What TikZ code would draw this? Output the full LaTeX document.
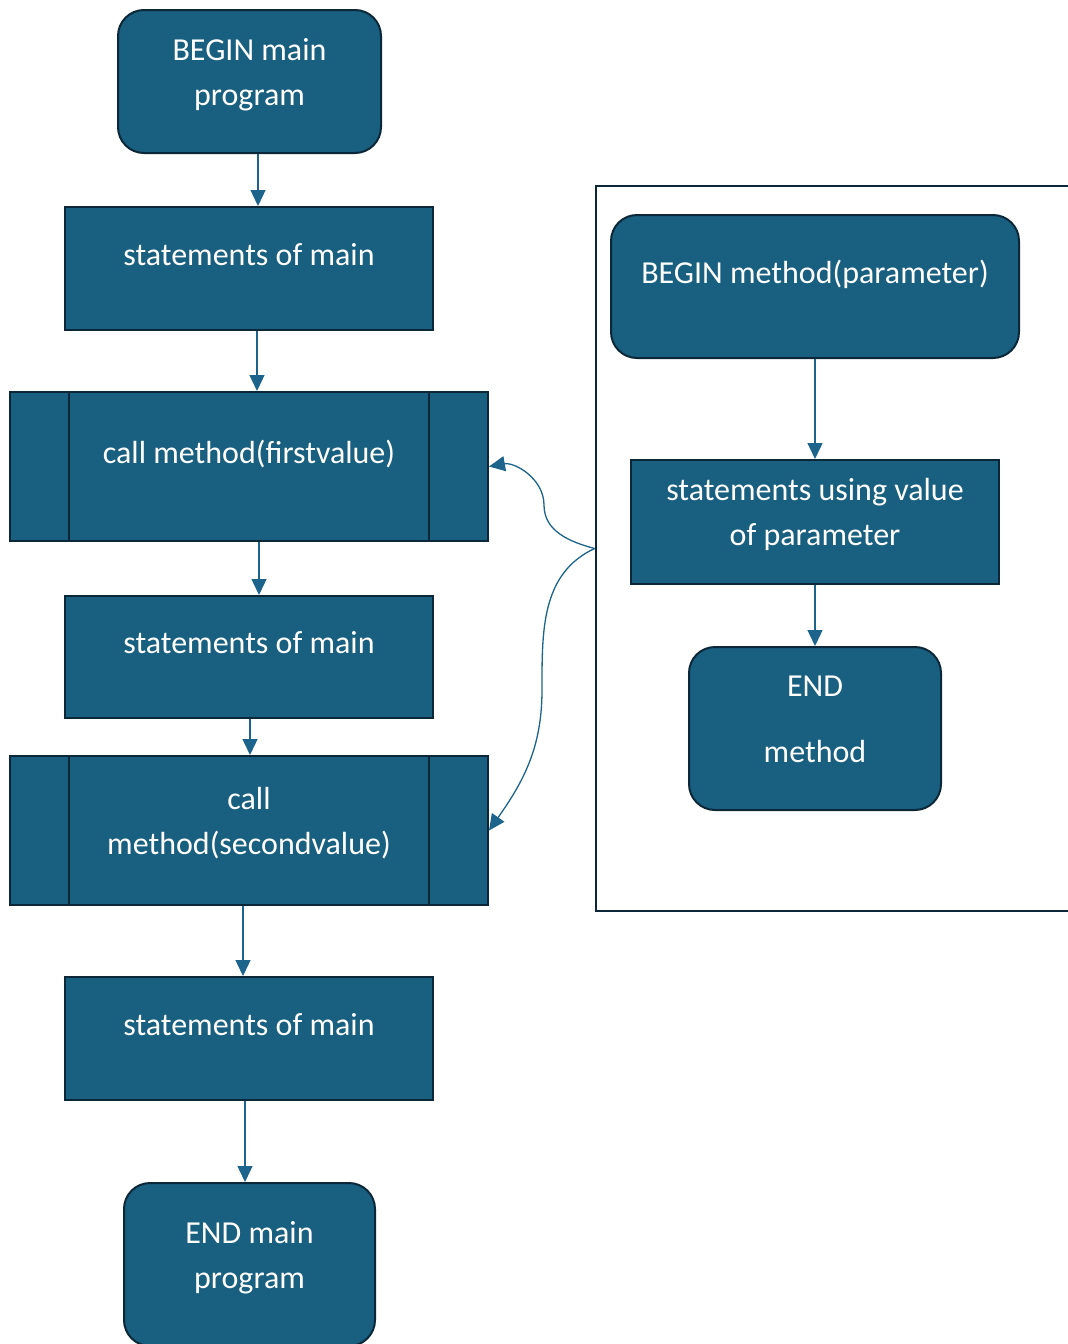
\documentclass[tikz,border=0pt]{standalone}
\usepackage{fontspec}
\setmainfont{Carlito}
\usetikzlibrary{arrows.meta}

\definecolor{boxfill}{RGB}{24,95,128}
\definecolor{boxline}{RGB}{12,40,56}
\definecolor{flowline}{RGB}{28,100,140}

% two lines of text, set a little above the middle of the box
\newcommand{\twolines}[3][0pt]{\begin{tabular}{@{}c@{}}#2\\[#1]#3\rule[-29pt]{0pt}{0pt}\end{tabular}}

\tikzset{
  textlift/.style={execute at begin node={\rule{0pt}{25pt}},
                   execute at end node={\rule[-31.5pt]{0pt}{0pt}}},
  stepbox/.style={draw=boxline, fill=boxfill, line width=2pt, text=white,
                  align=center, inner ysep=0pt, textlift},
  roundbox/.style={stepbox, rounded corners=26pt},
  flow/.style={draw=flowline, line width=1.3pt, -{Triangle[length=16pt,width=15pt]}}
}

\begin{document}
\begin{tikzpicture}[x=1pt, y=-1pt, font=\fontsize{32}{45}\selectfont]

    \useasboundingbox (0,0) rectangle (1068,1344);

    % main program
    \node [roundbox, minimum width=263, minimum height=143] (beginmain) at (249.5, 81.5) {\twolines{BEGIN main}{program}};
    \node [stepbox, minimum width=368, minimum height=123] (stmts1) at (249, 268.5) {statements of main};
    \node [stepbox, minimum width=478, minimum height=149] (call1) at (249, 466.5) {call method(firstvalue)};
    \node [stepbox, minimum width=368, minimum height=122] (stmts2) at (249, 657) {statements of main};
    \node [stepbox, minimum width=478, minimum height=149] (call2) at (249, 830.5) {\twolines{call}{method(secondvalue)}};
    \node [stepbox, minimum width=368, minimum height=123] (stmts3) at (249, 1038.5) {statements of main};
    \node [roundbox, minimum width=251, minimum height=163] (endmain) at (249.5, 1264.5) {\twolines{END main}{program}};

    % side bars of the call boxes
    \foreach \c in {call1, call2} {
        \draw [boxline, line width=2pt] ([xshift=60]\c.north west) -- ([xshift=60]\c.south west);
        \draw [boxline, line width=2pt] ([xshift=-60]\c.north east) -- ([xshift=-60]\c.south east);
    }

    \draw [flow] ([xshift=8.5]beginmain.south) -- ([xshift=8.5]beginmain.south |- stmts1.north);
    \draw [flow] ([xshift=8]stmts1.south) -- ([xshift=8]stmts1.south |- call1.north);
    \draw [flow] ([xshift=10]call1.south) -- ([xshift=10]call1.south |- stmts2.north);
    \draw [flow] ([xshift=1]stmts2.south) -- ([xshift=1]stmts2.south |- call2.north);
    \draw [flow] ([xshift=-6]call2.south) -- ([xshift=-6]call2.south |- stmts3.north);
    \draw [flow] ([xshift=-4]stmts3.south) -- ([xshift=-4]stmts3.south |- endmain.north);

    % the method
    \node [draw=boxline, line width=2.8pt, minimum width=520, minimum height=725] (methodframe) at (856, 548.5) {};
    \node [roundbox, minimum width=408, minimum height=143] (beginmethod) at (815, 286.5) {BEGIN method(parameter)};
    \node [stepbox, minimum width=368, minimum height=124] (usingvalue) at (815, 522) {\twolines{statements using value}{of parameter}};
    \node [roundbox, minimum width=252, minimum height=163] (endmethod) at (815, 728.5) {\twolines[21pt]{END}{method}};

    \draw [flow] (beginmethod) -- (usingvalue);
    \draw [flow] (usingvalue) -- (endmethod);

    % calls into the method
    \coordinate (bend1) at (544, 505);
    \coordinate (bend2) at (542, 690);
    \draw [flow] (methodframe.west) to[out=165, in=-90] (bend1) to[out=90, in=10] (call1.east);
    \draw [flow] (methodframe.west) to[out=205, in=90] (bend2) to[out=-90, in=55] (call2.east);

\end{tikzpicture}
\end{document}
